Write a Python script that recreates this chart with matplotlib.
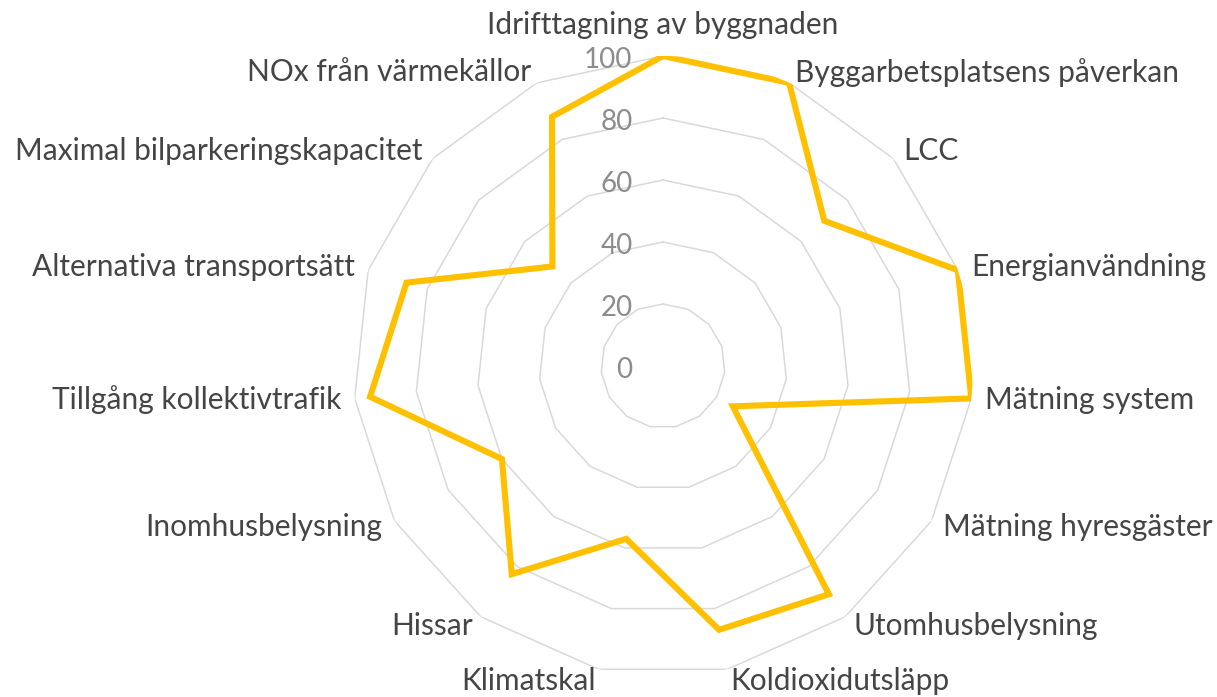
import numpy as np
import matplotlib.pyplot as plt

# categories, clockwise from the top
categories = [
    "Idrifttagning av byggnaden",
    "Byggarbetsplatsens påverkan",
    "LCC",
    "Energianvändning",
    "Mätning system",
    "Mätning hyresgäster",
    "Utomhusbelysning",
    "Koldioxidutsläpp",
    "Klimatskal",
    "Hissar",
    "Inomhusbelysning",
    "Tillgång kollektivtrafik",
    "Alternativa transportsätt",
    "Maximal bilparkeringskapacitet",
    "NOx från värmekällor",
]
values = [100, 100, 70, 100, 100, 26, 91, 87, 57, 83, 60, 95, 87, 48, 88]
rings = [20, 40, 60, 80, 100]
tick_labels = ["0", "20", "40", "60", "80", "100"]

plt.rcParams['font.family'] = ['Lato', 'DejaVu Sans']

n = len(categories)
angles = np.linspace(0, 2 * np.pi, n, endpoint=False)
closed = np.append(angles, angles[0])

fig = plt.figure(figsize=(12.17, 6.97), dpi=100)
ax = fig.add_axes([0.29006, 0.03013, 0.50945, 0.88953], projection='polar')
ax.set_theta_offset(np.pi / 2)
ax.set_theta_direction(-1)
ax.set_ylim(0, 100)
ax.axis('off')

# polygon grid rings
for r in rings:
    ax.plot(closed, [r] * (n + 1), color='#d9d9d9', lw=1.1, zorder=1)

# data line
vals = values + values[:1]
ax.plot(closed, vals, color='#ffc000', lw=4.4, solid_joinstyle='miter', zorder=3)

# radial value labels
for i, lab in enumerate(tick_labels):
    r = i * 20
    ax.annotate(lab, xy=(0, r), xytext=(-22, -3), textcoords='offset points',
                ha='right', va='center', fontsize=20, color='#8c8c8c',
                annotation_clip=False)

# category labels
for a, lab in zip(angles, categories):
    s, c = np.sin(a), np.cos(a)
    if abs(s) < 1e-6:
        ax.annotate(lab, xy=(a, 100), xytext=(0, 12), textcoords='offset points',
                    ha='center', va='bottom', fontsize=21.5, color='#454545',
                    annotation_clip=False)
        continue
    ha = 'left' if s > 0 else 'right'
    dx = 10 * s
    dy = 8.5 * c
    ax.annotate(lab, xy=(a, 100), xytext=(dx, dy), textcoords='offset points',
                ha=ha, va='center', fontsize=21.5, color='#454545',
                annotation_clip=False)

fig.savefig('out.png', dpi=100)
